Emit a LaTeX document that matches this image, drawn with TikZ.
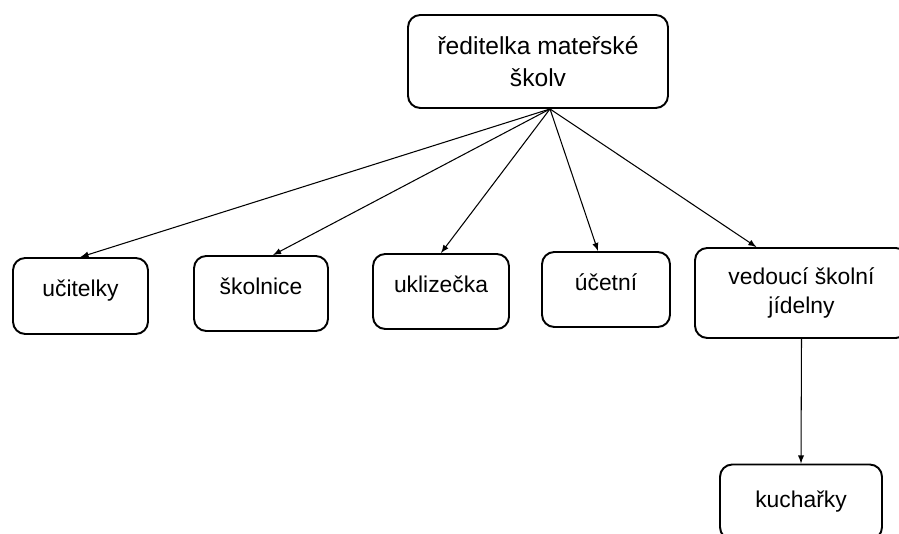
\documentclass[tikz,border=0pt]{standalone}
\usepackage{fontspec}
\setmainfont{Liberation Sans}
\usepackage{tikz}
\usetikzlibrary{arrows}
\usetikzlibrary{calc}
\tikzset{>=latex}
\tikzset{box/.style = {draw, line width = 1.1pt, rounded corners = 7pt, align = center, inner sep = 2pt}}
\tikzset{rowbox/.style = {box, minimum height = 1.5cm, text depth = 0.3cm}}

\begin{document}
\begin{tikzpicture}[font = {\fontsize{13pt}{17}\selectfont}]
\useasboundingbox (0, 0) rectangle (17.98, 10.68);

\node[box, minimum width = 5.2cm, minimum height = 1.86cm, font = {\fontsize{14pt}{18}\selectfont}] (RED) at (10.76, 9.45) {ředitelka mateřské \\ školv};

\node[rowbox, minimum width = 2.7cm, minimum height = 1.52cm] (UCI) at (1.61, 4.76) {učitelky};
\node[rowbox, minimum width = 2.68cm] (SKO) at (5.22, 4.81) {školnice};
\node[rowbox, minimum width = 2.72cm] (UKL) at (8.82, 4.85) {uklizečka};
\node[rowbox, minimum width = 2.56cm] (UCE) at (12.12, 4.89) {účetní};
\node[box, minimum width = 4.26cm, minimum height = 1.8cm] (VED) at (16.03, 4.82) {vedoucí školní \\ jídelny};

\node[box, minimum width = 3.24cm, minimum height = 1.5cm] (KUCH) at (16.02, 0.64) {kuchařky};

\coordinate (RED-Hub) at ($(RED.south) + (0.24, 0)$);
\coordinate (VED-Top) at ($(VED.north west)!0.29!(VED.north east)$);

\draw[->, line width = 0.6pt] (RED-Hub) -- (UCI.north);
\draw[->, line width = 0.6pt] (RED-Hub) -- ($(SKO.north) + (0.24, 0)$);
\draw[->, line width = 0.6pt] (RED-Hub) -- (UKL.north);
\draw[->, line width = 0.6pt] (RED-Hub) -- ($(UCE.north) + (-0.16, 0)$);
\draw[->, line width = 0.6pt] (RED-Hub) -- (VED-Top);

\draw[->, line width = 0.6pt] (VED.south) -- (KUCH.north);
\end{tikzpicture}
\end{document}
